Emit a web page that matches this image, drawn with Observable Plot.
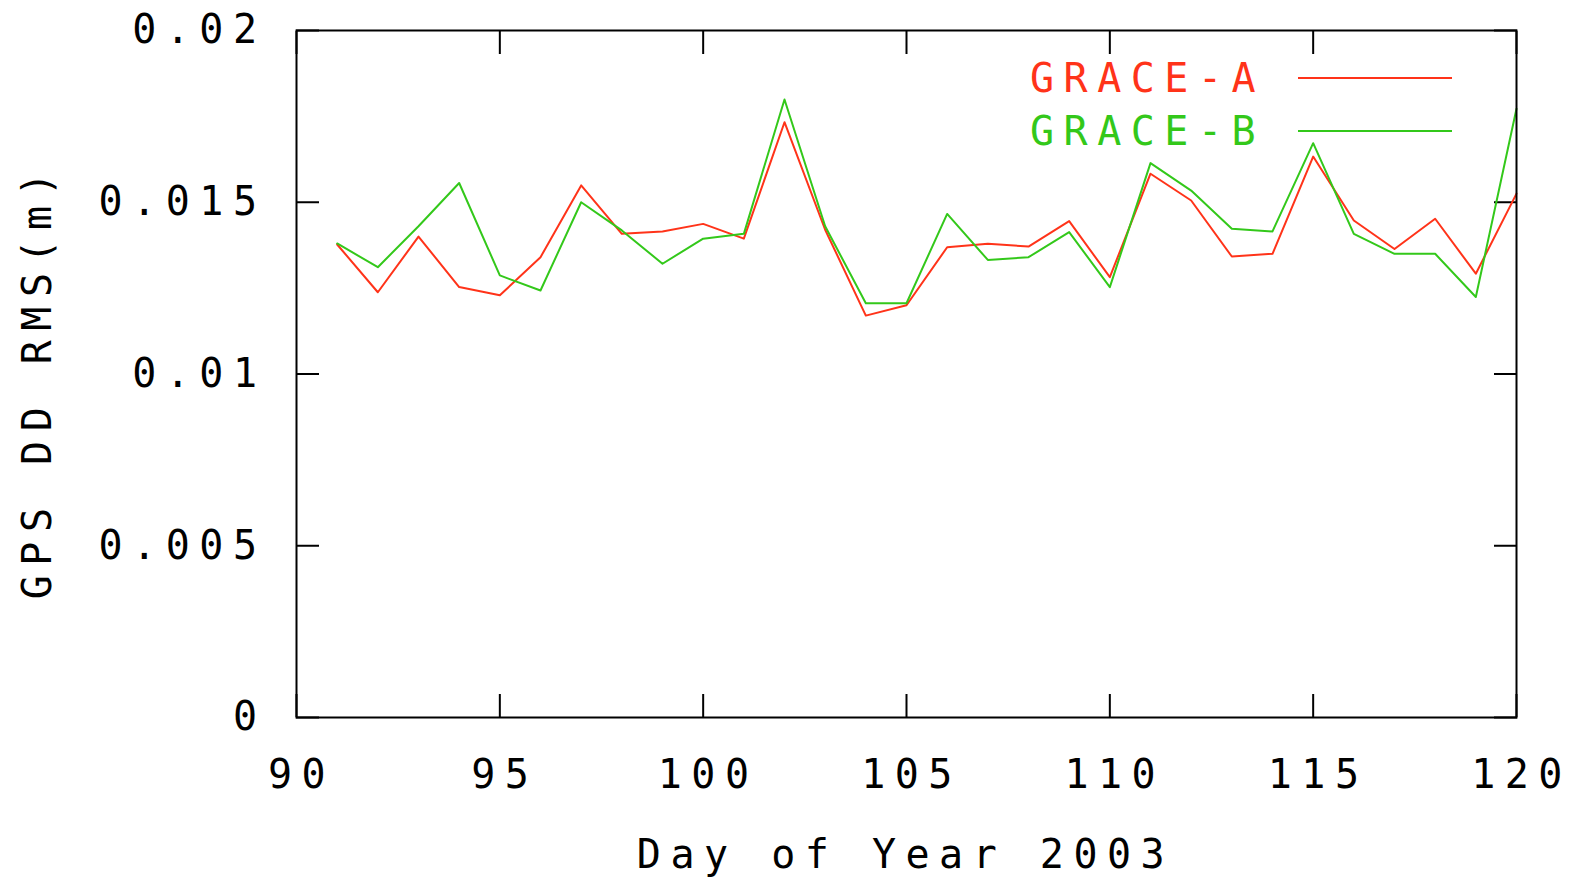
<!DOCTYPE html>
<html>
<head>
<meta charset="utf-8">
<script src="https://cdn.jsdelivr.net/npm/d3@7"></script>
<script src="https://cdn.jsdelivr.net/npm/@observablehq/plot@0.6"></script>
<style>
  html, body { margin: 0; padding: 0; background: #fff; }
</style>
</head>
<body>
<div id="chart"></div>
<script>
const days = [91,92,93,94,95,96,97,98,99,100,101,102,103,104,105,106,107,108,109,110,111,112,113,114,115,116,117,118,119,120];
const graceA = [0.01377,0.01238,0.0140,0.01253,0.01229,0.0134,0.01549,0.01408,0.01415,0.01437,0.01394,0.01733,0.0142,0.0117,0.0120,0.01369,0.01379,0.01371,0.01445,0.01282,0.01583,0.01505,0.01342,0.0135,0.01633,0.01447,0.01364,0.01452,0.01292,0.01525];
const graceB = [0.0138,0.01311,0.0143,0.01556,0.01287,0.01243,0.0150,0.01418,0.01321,0.01394,0.01408,0.01799,0.0143,0.01206,0.01206,0.01466,0.01332,0.0134,0.01413,0.01253,0.01614,0.01534,0.01423,0.01415,0.01672,0.01408,0.0135,0.0135,0.01224,0.01772];
const seriesNames = ["GRACE-A", "GRACE-B"];
const seriesColors = ["#ff3319", "#33c81a"];
const xTicks = [90, 95, 100, 105, 110, 115, 120];
const yTicks = [0, 0.005, 0.01, 0.015, 0.02];
const xLabel = "Day of Year 2003";
const yLabel = "GPS DD RMS(m)";

const rows = [];
days.forEach((d, i) => {
  rows.push({day: d, value: graceA[i], series: seriesNames[0]});
  rows.push({day: d, value: graceB[i], series: seriesNames[1]});
});

const fmt = d => String(d);

function legend(index, scales, values, dims) {
  const g = d3.create("svg:g");
  const right = dims.width - dims.marginRight;
  seriesNames.forEach((name, i) => {
    const y = dims.marginTop + 48 + i * 53;
    g.append("text")
      .attr("x", right - 486)
      .attr("y", y)
      .attr("dy", "0.36em")
      .attr("text-anchor", "start")
      .attr("fill", seriesColors[i])
      .text(name);
    g.append("line")
      .attr("x1", right - 218)
      .attr("x2", right - 64)
      .attr("y1", y)
      .attr("y2", y)
      .attr("stroke", seriesColors[i])
      .attr("stroke-width", 2);
  });
  return g.node();
}

const chart = Plot.plot({
  width: 1576,
  height: 879,
  marginLeft: 296,
  marginRight: 60,
  marginTop: 30,
  marginBottom: 162,
  style: {fontFamily: "'DejaVu Sans Mono', monospace", fontSize: "40px", letterSpacing: "9.5px", color: "#000", background: "#fff"},
  x: {domain: [90, 120], label: null},
  y: {domain: [0, 0.02], label: null},
  color: {domain: seriesNames, range: seriesColors},
  marks: [
    Plot.axisX(xTicks, {anchor: "bottom", tickSize: -23, tickFormat: () => "", label: null, strokeWidth: 2}),
    Plot.axisX(xTicks, {anchor: "top", tickSize: -23, tickFormat: () => "", label: null, strokeWidth: 2}),
    Plot.axisY(yTicks, {anchor: "left", tickSize: -23, tickFormat: () => "", label: null, strokeWidth: 2}),
    Plot.axisY(yTicks, {anchor: "right", tickSize: -23, tickFormat: () => "", label: null, strokeWidth: 2}),
    Plot.axisX(xTicks, {anchor: "bottom", tickSize: 0, tickPadding: 42, tickFormat: fmt, label: null, fill: "#000", dx: 5}),
    Plot.axisY(yTicks, {anchor: "left", tickSize: 0, tickPadding: 30, tickFormat: fmt, label: null, fill: "#000"}),
    Plot.text([xLabel], {frameAnchor: "bottom", dy: 150, dx: -1, fill: "#000"}),
    Plot.text([yLabel], {frameAnchor: "left", textAnchor: "middle", dx: -258, dy: 7, rotate: -90, fill: "#000"}),
    Plot.lineY(rows, {x: "day", y: "value", z: "series", stroke: "series", strokeWidth: 2}),
    Plot.frame({stroke: "#000", strokeWidth: 2}),
    legend
  ]
});
document.getElementById("chart").appendChild(chart);
</script>
</body>
</html>
